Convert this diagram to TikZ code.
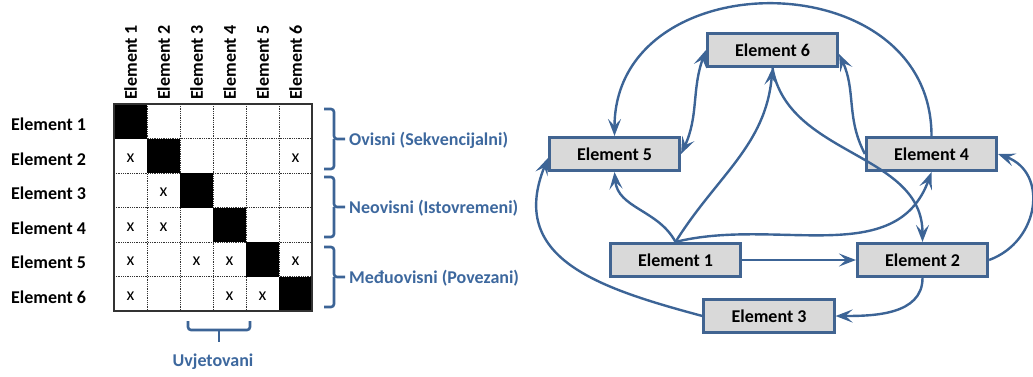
\documentclass[tikz,border=0pt]{standalone}
\usepackage{fontspec}
\setmainfont{Carlito}
\usepackage{tikz}
\usetikzlibrary{arrows.meta}
\definecolor{linkblue}{RGB}{60,100,150}
\definecolor{boxblue}{RGB}{65,100,145}
\definecolor{txtblue}{RGB}{61,104,158}
\definecolor{boxgray}{RGB}{217,217,217}

\begin{document}
\begin{tikzpicture}[x=1pt,y=1pt,>={Stealth[length=17pt,width=13pt,inset=7pt]}]
\tikzstyle{every node}=[inner sep=0pt,font=\fontsize{18}{20}\selectfont\bfseries];
\tikzstyle{elem}=[draw=boxblue,line width=2.6pt,fill=boxgray,minimum width=130.5pt,minimum height=33.5pt];
\tikzstyle{link}=[draw=linkblue,line width=2.4pt,->];
\tikzstyle{brc}=[draw=linkblue,line width=2.6pt,rounded corners=3pt];
\tikzstyle{brclbl}=[anchor=west,text=txtblue];
\tikzstyle{hit}=[font=\fontsize{18}{20}\selectfont];
\tikzstyle{gridline}=[densely dotted,line width=0.8pt,black!80];
\useasboundingbox (0,0) rectangle (1033,-376);

\foreach \i in {1,...,5} {
  \draw[gridline] ({114+33*\i},-104) -- ({114+33*\i},-311);
  \draw[gridline] (114,{-104-34.5*\i}) -- (312,{-104-34.5*\i});
}
\foreach \i in {1,...,6}
  \fill ({81+33*\i},{-69.5-34.5*\i}) rectangle ++(33,-34.5);
\draw[line width=2.2pt,black!80] (114,-104) rectangle (312,-311);

\foreach \i in {1,...,6} {
  \node[anchor=west] (row\i) at (11,{-89.75-34.5*\i}) {Element \i};
  \node[anchor=west,rotate=90] (col\i) at ({97.5+33*\i},-100) {Element \i};
}
\foreach \r/\c in {2/1,2/6,3/2,4/1,4/2,5/1,5/3,5/4,5/6,6/1,6/4,6/5}
  \node[hit] (x\r\c) at ({97.5+33*\c},{-88.75-34.5*\r}) {x};

\foreach \t in {139,207,277} {
  \draw[brc] (324,{-\t+30}) -- (334,{-\t+30}) -- (334,-\t) -- (345,-\t);
  \draw[brc] (334,-\t) -- (334,{-\t-30}) -- (324,{-\t-30});
}
\node[brclbl] (ovisni) at (349,-140) {Ovisni (Sekvencijalni)};
\node[brclbl] (neovisni) at (349,-208) {Neovisni (Istovremeni)};
\node[brclbl] (meduovisni) at (349,-278) {Međuovisni (Povezani)};
\draw[brc] (188,-321) -- (188,-330) -- (250,-330) -- (250,-321);
\draw[brc] (219,-330) -- (219,-342);
\node[text=txtblue] (uvjetovani) at (213,-362) {Uvjetovani};

\node[elem] (e1) at (675.5,-260) {Element 1};
\node[elem] (e2) at (922.5,-260) {Element 2};
\node[elem] (e3) at (769,-316) {Element 3};
\node[elem] (e4) at (931.5,-154) {Element 4};
\node[elem] (e5) at (614.5,-154) {Element 5};
\node[elem] (e6) at (772.5,-50) {Element 6};

\draw[link] (e1) -- (e2);
\draw[link] (e2.south) to[out=-90,in=0] (e3.east);
\draw[link] (e3.west) to[out=165,in=-112,looseness=1.25] ([yshift=-4pt]e5.west);
\draw[link] (e2.east) to[out=20,in=-20,looseness=1.3] (e4.east);
\draw[link] (e1.north) to[out=118,in=-85] (e5.south);
\draw[link] (e1.north) to[out=58,in=-95] (e6.south);
\draw[link] (e1.north) to[out=14,in=-110] (e4.south);
\draw[link] (e6.south) to[out=-80,in=90] (e2.north);
\draw[link,<->] (e5.east) to[out=65,in=-110] (e6.west);
\draw[link] (e4.west) to[out=118,in=-65] ([yshift=-4pt]e6.east);
\draw[link] (e4.north) to[out=90,in=90,looseness=1.42] (e5.north);
\end{tikzpicture}
\end{document}
